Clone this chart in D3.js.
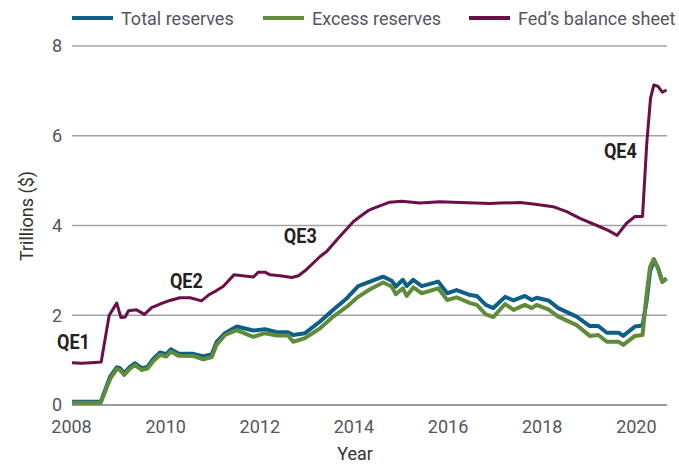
<!DOCTYPE html>
<html>
<head>
<meta charset="utf-8">
<script src="https://cdn.jsdelivr.net/npm/d3@7"></script>
<style>
  body { margin: 0; background: #fff; }
  text { font-family: Roboto, "Open Sans", sans-serif; }
</style>
</head>
<body>
<svg id="chart" width="679" height="464"></svg>
<script>
// values (decimal year, trillions $)
const fedYears = [2008.0, 2008.2, 2008.4, 2008.55, 2008.62, 2008.79, 2008.95, 2009.04, 2009.13, 2009.2, 2009.37, 2009.54, 2009.69, 2009.87, 2010.08, 2010.29, 2010.51, 2010.75, 2010.9, 2011.07, 2011.21, 2011.44, 2011.85, 2011.96, 2012.1, 2012.21, 2012.42, 2012.67, 2012.81, 2012.95, 2013.27, 2013.41, 2013.66, 2013.98, 2014.12, 2014.29, 2014.4, 2014.75, 2015.0, 2015.39, 2015.82, 2016.24, 2016.88, 2017.09, 2017.52, 2017.8, 2018.22, 2018.51, 2018.79, 2019.15, 2019.39, 2019.58, 2019.78, 2019.96, 2020.12, 2020.21, 2020.29, 2020.36, 2020.45, 2020.54, 2020.63];
const fedValues = [0.94, 0.93, 0.94, 0.95, 0.96, 2.0, 2.27, 1.95, 1.96, 2.1, 2.12, 2.02, 2.17, 2.25, 2.33, 2.39, 2.39, 2.32, 2.45, 2.55, 2.64, 2.9, 2.85, 2.96, 2.96, 2.9, 2.88, 2.84, 2.88, 2.99, 3.31, 3.42, 3.72, 4.09, 4.2, 4.33, 4.38, 4.52, 4.54, 4.5, 4.53, 4.51, 4.49, 4.5, 4.51, 4.48, 4.42, 4.31, 4.16, 4.0, 3.89, 3.78, 4.05, 4.2, 4.2, 5.83, 6.84, 7.13, 7.1, 6.97, 7.02];

const resYears = [2008.0, 2008.61, 2008.81, 2008.95, 2009.02, 2009.11, 2009.23, 2009.34, 2009.48, 2009.6, 2009.73, 2009.87, 2010.0, 2010.1, 2010.26, 2010.58, 2010.79, 2010.97, 2011.07, 2011.25, 2011.5, 2011.85, 2012.1, 2012.35, 2012.59, 2012.7, 2012.95, 2013.27, 2013.55, 2013.84, 2014.08, 2014.33, 2014.61, 2014.79, 2014.88, 2015.03, 2015.11, 2015.25, 2015.43, 2015.78, 2015.97, 2016.17, 2016.46, 2016.6, 2016.79, 2016.95, 2017.2, 2017.38, 2017.62, 2017.77, 2017.87, 2018.12, 2018.33, 2018.72, 2019.0, 2019.18, 2019.36, 2019.61, 2019.71, 2019.96, 2020.12, 2020.21, 2020.28, 2020.36, 2020.45, 2020.54, 2020.63];
const totalValues = [0.07, 0.07, 0.63, 0.84, 0.82, 0.71, 0.85, 0.93, 0.82, 0.85, 1.03, 1.17, 1.13, 1.24, 1.15, 1.14, 1.08, 1.13, 1.4, 1.6, 1.75, 1.66, 1.69, 1.62, 1.62, 1.56, 1.6, 1.86, 2.12, 2.38, 2.65, 2.75, 2.86, 2.77, 2.64, 2.79, 2.65, 2.79, 2.65, 2.75, 2.49, 2.56, 2.45, 2.43, 2.23, 2.16, 2.41, 2.33, 2.43, 2.34, 2.39, 2.33, 2.16, 1.97, 1.76, 1.76, 1.61, 1.61, 1.54, 1.75, 1.77, 2.34, 2.97, 3.23, 3.05, 2.75, 2.82];
const excessValues = [0.05, 0.05, 0.58, 0.8, 0.78, 0.67, 0.81, 0.89, 0.78, 0.81, 0.98, 1.12, 1.08, 1.19, 1.1, 1.09, 1.02, 1.07, 1.34, 1.56, 1.67, 1.52, 1.6, 1.55, 1.55, 1.41, 1.49, 1.71, 1.97, 2.19, 2.41, 2.58, 2.73, 2.64, 2.47, 2.6, 2.43, 2.62, 2.49, 2.6, 2.34, 2.4, 2.27, 2.23, 2.02, 1.96, 2.25, 2.12, 2.23, 2.16, 2.23, 2.13, 1.97, 1.78, 1.54, 1.56, 1.41, 1.41, 1.34, 1.54, 1.56, 2.49, 3.08, 3.25, 3.05, 2.74, 2.82];

const xTicks = [2008, 2010, 2012, 2014, 2016, 2018, 2020];
const yTicks = [0, 2, 4, 6, 8];

const seriesNames = ["Total reserves", "Excess reserves", "Fed\u2019s balance sheet"];
const seriesColors = ["#0d5f87", "#5f8b3b", "#6b0f48"];

const qeLabels = ["QE1", "QE2", "QE3", "QE4"];
const qeYears = [2007.68, 2010.08, 2012.5, 2019.3];
const qeValues = [1.25, 2.6, 3.6, 5.51];

const svg = d3.select("#chart");

const x = d3.scaleLinear().domain([2008, 2020.64]).range([72, 667]);
const y = d3.scaleLinear().domain([0, 8]).range([405, 46]);

// gridlines
svg.append("g").selectAll("line")
  .data(yTicks)
  .enter().append("line")
    .attr("x1", x(2008))
    .attr("x2", x(2020.64))
    .attr("y1", d => y(d))
    .attr("y2", d => y(d))
    .attr("stroke", d => d === 0 ? "#7a7a80" : "#a2a2a8")
    .attr("stroke-width", 1.6);

// y labels
svg.append("g").selectAll("text")
  .data(yTicks)
  .enter().append("text")
    .attr("x", 62)
    .attr("y", d => y(d))
    .attr("dy", "0.36em")
    .attr("text-anchor", "end")
    .attr("font-size", 18)
    .attr("fill", "#55555c")
    .text(d => d);

// x labels
svg.append("g").selectAll("text")
  .data(xTicks)
  .enter().append("text")
    .attr("x", d => x(d) - 0.5)
    .attr("y", 433)
    .attr("text-anchor", "middle")
    .attr("font-size", 18)
    .attr("fill", "#55555c")
    .text(d => d);

svg.append("text")
  .attr("x", 355)
  .attr("y", 460)
  .attr("text-anchor", "middle")
  .attr("font-size", 18)
  .attr("fill", "#333")
  .text("Year");

svg.append("text")
  .attr("transform", "translate(33,216) rotate(-90)")
  .attr("text-anchor", "middle")
  .attr("font-size", 18)
  .attr("fill", "#333")
  .text("Trillions ($)");

const line = d3.line()
  .x(d => x(d[0]))
  .y(d => y(d[1]));

const series = [
  { years: resYears, values: totalValues, width: 4 },
  { years: resYears, values: excessValues, width: 4 },
  { years: fedYears, values: fedValues, width: 3 }
];

svg.append("g").selectAll("path")
  .data(series)
  .enter().append("path")
    .attr("d", s => line(d3.zip(s.years, s.values)))
    .attr("fill", "none")
    .attr("stroke", (s, i) => seriesColors[i])
    .attr("stroke-width", s => s.width)
    .attr("stroke-linejoin", "round");

// QE annotations (squeezed a bit to look condensed)
svg.append("g").selectAll("text")
  .data(qeLabels)
  .enter().append("text")
    .attr("transform", (d, i) => "translate(" + x(qeYears[i]) + "," + y(qeValues[i]) + ") scale(0.86,1)")
    .attr("font-size", 21)
    .attr("font-weight", "bold")
    .attr("fill", "#222")
    .text(d => d);

// legend
const legendX = [72, 263, 469];
const legend = svg.append("g").selectAll("g")
  .data(seriesNames)
  .enter().append("g")
    .attr("transform", (d, i) => "translate(" + legendX[i] + ",18)");

legend.append("line")
  .attr("x1", 0).attr("x2", 41)
  .attr("stroke", (d, i) => seriesColors[i])
  .attr("stroke-width", 4);

legend.append("text")
  .attr("x", 49)
  .attr("y", 6.5)
  .attr("font-size", 18)
  .attr("fill", "#55555f")
  .text(d => d);
</script>
</body>
</html>
